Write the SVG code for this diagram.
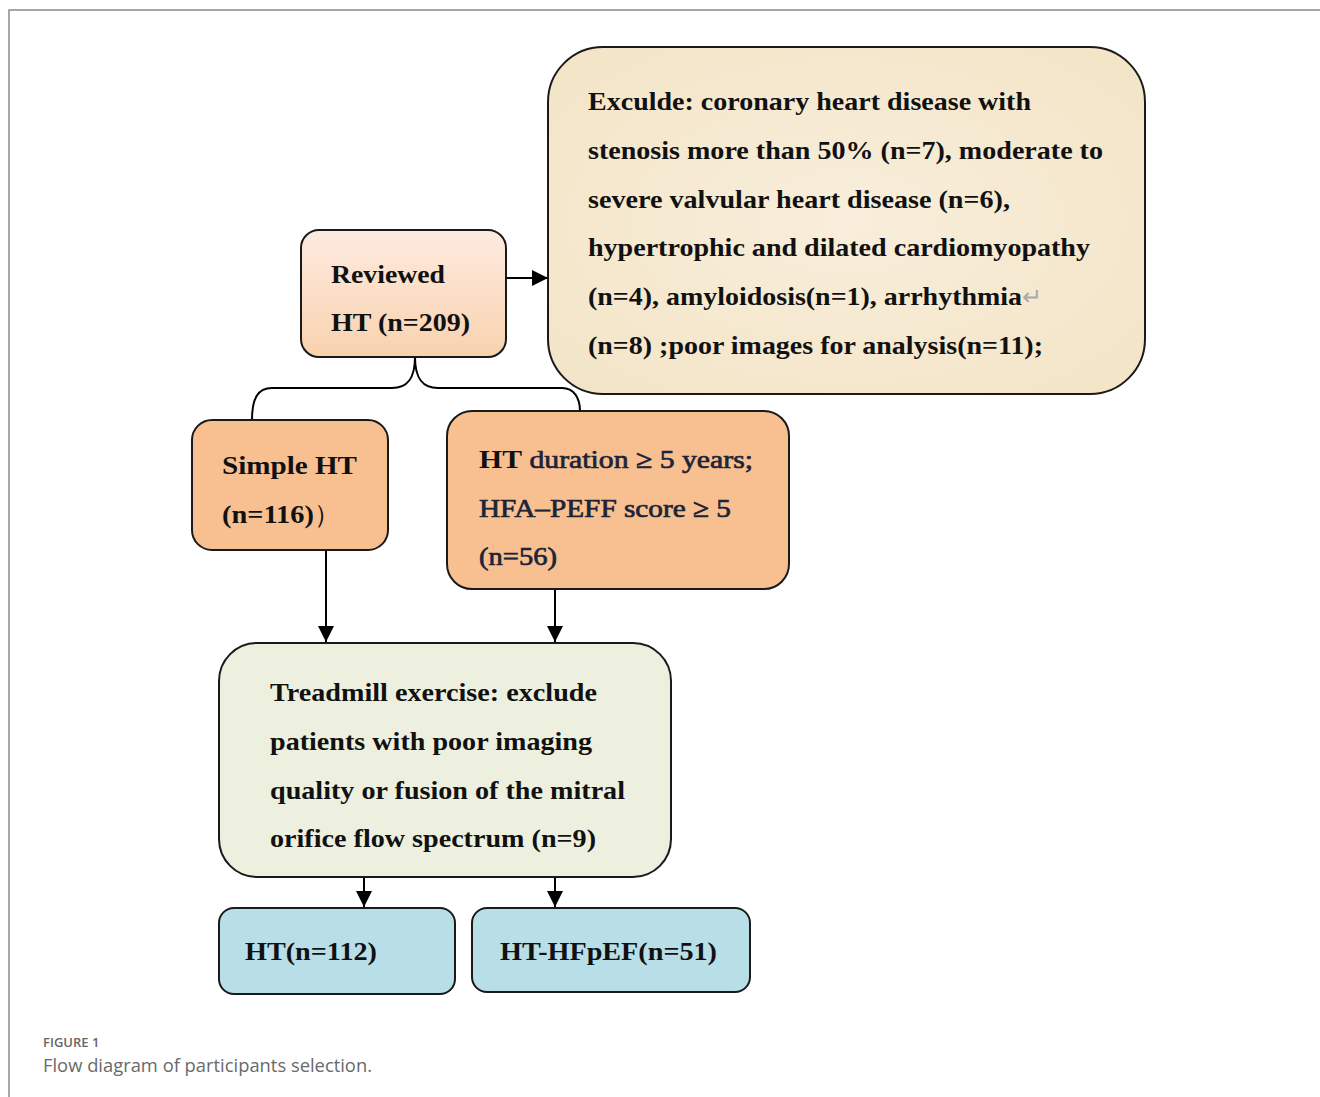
<svg xmlns="http://www.w3.org/2000/svg" width="1320" height="1097" viewBox="0 0 1320 1097">
<defs>
<linearGradient id="gRev" x1="0" y1="0" x2="0" y2="1">
<stop offset="0" stop-color="#fdebe0"/>
<stop offset="1" stop-color="#f9d2ae"/>
</linearGradient>
<radialGradient id="gExc" cx="0.5" cy="0.5" r="0.7">
<stop offset="0" stop-color="#f8eedb"/>
<stop offset="1" stop-color="#f3e4c6"/>
</radialGradient>
<marker id="arrB" viewBox="0 0 16 16" refX="16" refY="8" markerWidth="16" markerHeight="16" markerUnits="userSpaceOnUse" orient="auto">
<path d="M0,0 L16,8 L0,16 Z" fill="#000"/>
</marker>
</defs>
<style>
.box{stroke:#1a1a1a;stroke-width:2}
.t{font-family:"Liberation Serif","Times New Roman",serif;font-weight:bold;font-size:26px;fill:#111}
.tn{font-weight:normal;fill:#1c2438;stroke:#1c2438;stroke-width:0.7}
.cap1{font-family:"Open Sans","Noto Sans",sans-serif;font-size:13px;font-weight:600;fill:#666}
.cap2{font-family:"Open Sans","Noto Sans",sans-serif;font-size:18px;fill:#6a6a6a}
.ln{fill:none;stroke:#000;stroke-width:2}
</style>
<rect width="1320" height="1097" fill="#fff"/>
<path d="M9,1097 V10 H1320" fill="none" stroke="#8a8a8a" stroke-width="1.5"/>

<g id="connectors">
<path class="ln" d="M415,357 C415,378 408,388 392,388 H272 C258,388 252,398 252,420"/>
<path class="ln" d="M415,357 C415,378 422,388 438,388 H562 C574,388 580,398 580,411"/>
<line class="ln" x1="506" y1="278" x2="548" y2="278" marker-end="url(#arrB)"/>
<line class="ln" x1="326" y1="550" x2="326" y2="642" marker-end="url(#arrB)"/>
<line class="ln" x1="555" y1="589" x2="555" y2="642" marker-end="url(#arrB)"/>
<line class="ln" x1="364" y1="877" x2="364" y2="907" marker-end="url(#arrB)"/>
<line class="ln" x1="555" y1="877" x2="555" y2="907" marker-end="url(#arrB)"/>
</g>

<g id="reviewed">
<rect class="box" x="301" y="230" width="205" height="127" rx="18" fill="url(#gRev)"/>
<text class="t" x="331" y="283" textLength="114" lengthAdjust="spacingAndGlyphs">Reviewed</text>
<text class="t" x="331" y="331" textLength="139" lengthAdjust="spacingAndGlyphs">HT (n=209)</text>
</g>

<g id="exclude">
<rect class="box" x="548" y="47" width="597" height="347" rx="55" fill="url(#gExc)"/>
<text class="t" x="588" y="110" textLength="443" lengthAdjust="spacingAndGlyphs">Exculde: coronary heart disease with</text>
<text class="t" x="588" y="159" textLength="515" lengthAdjust="spacingAndGlyphs">stenosis more than 50% (n=7), moderate to</text>
<text class="t" x="588" y="208" textLength="422" lengthAdjust="spacingAndGlyphs">severe valvular heart disease (n=6),</text>
<text class="t" x="588" y="256" textLength="502" lengthAdjust="spacingAndGlyphs">hypertrophic and dilated cardiomyopathy</text>
<text class="t" x="588" y="305"><tspan textLength="434" lengthAdjust="spacingAndGlyphs">(n=4), amyloidosis(n=1), arrhythmia</tspan><tspan font-size="24" font-weight="normal" fill="#aaa">↵</tspan></text>
<text class="t" x="588" y="354" textLength="455" lengthAdjust="spacingAndGlyphs">(n=8) ;poor images for analysis(n=11);</text>
</g>

<g id="simple">
<rect class="box" x="192" y="420" width="196" height="130" rx="20" fill="#f8c091"/>
<text class="t" x="222" y="474" textLength="135" lengthAdjust="spacingAndGlyphs">Simple  HT</text>
<text class="t" x="222" y="523"><tspan textLength="92" lengthAdjust="spacingAndGlyphs">(n=116)</tspan><tspan font-weight="normal">）</tspan></text>
</g>

<g id="duration">
<rect class="box" x="447" y="411" width="342" height="178" rx="25" fill="#f8c091"/>
<text class="t" x="479" y="468" textLength="274" lengthAdjust="spacingAndGlyphs">HT<tspan class="tn"> duration ≥ 5 years;</tspan></text>
<text class="t tn" x="479" y="517" textLength="252" lengthAdjust="spacingAndGlyphs">HFA–PEFF score ≥ 5</text>
<text class="t tn" x="479" y="565" textLength="78" lengthAdjust="spacingAndGlyphs">(n=56)</text>
</g>

<g id="treadmill">
<rect class="box" x="219" y="643" width="452" height="234" rx="38" fill="#edf0de"/>
<text class="t" x="270" y="701" textLength="327" lengthAdjust="spacingAndGlyphs">Treadmill exercise: exclude</text>
<text class="t" x="270" y="750" textLength="322" lengthAdjust="spacingAndGlyphs">patients with poor imaging</text>
<text class="t" x="270" y="799" textLength="355" lengthAdjust="spacingAndGlyphs">quality or fusion of the mitral</text>
<text class="t" x="270" y="847" textLength="326" lengthAdjust="spacingAndGlyphs">orifice flow spectrum (n=9)</text>
</g>

<g id="ht112">
<rect class="box" x="219" y="908" width="236" height="86" rx="15" fill="#b8dee8"/>
<text class="t" x="245" y="960" textLength="132" lengthAdjust="spacingAndGlyphs">HT(n=112)</text>
</g>

<g id="hthfpef">
<rect class="box" x="472" y="908" width="278" height="84" rx="15" fill="#b8dee8"/>
<text class="t" x="500" y="960" textLength="217" lengthAdjust="spacingAndGlyphs">HT-HFpEF(n=51)</text>
</g>

<g id="caption">
<text class="cap1" x="43" y="1047">FIGURE 1</text>
<text class="cap2" x="43" y="1072" textLength="329" lengthAdjust="spacingAndGlyphs">Flow diagram of participants selection.</text>
</g>
</svg>
